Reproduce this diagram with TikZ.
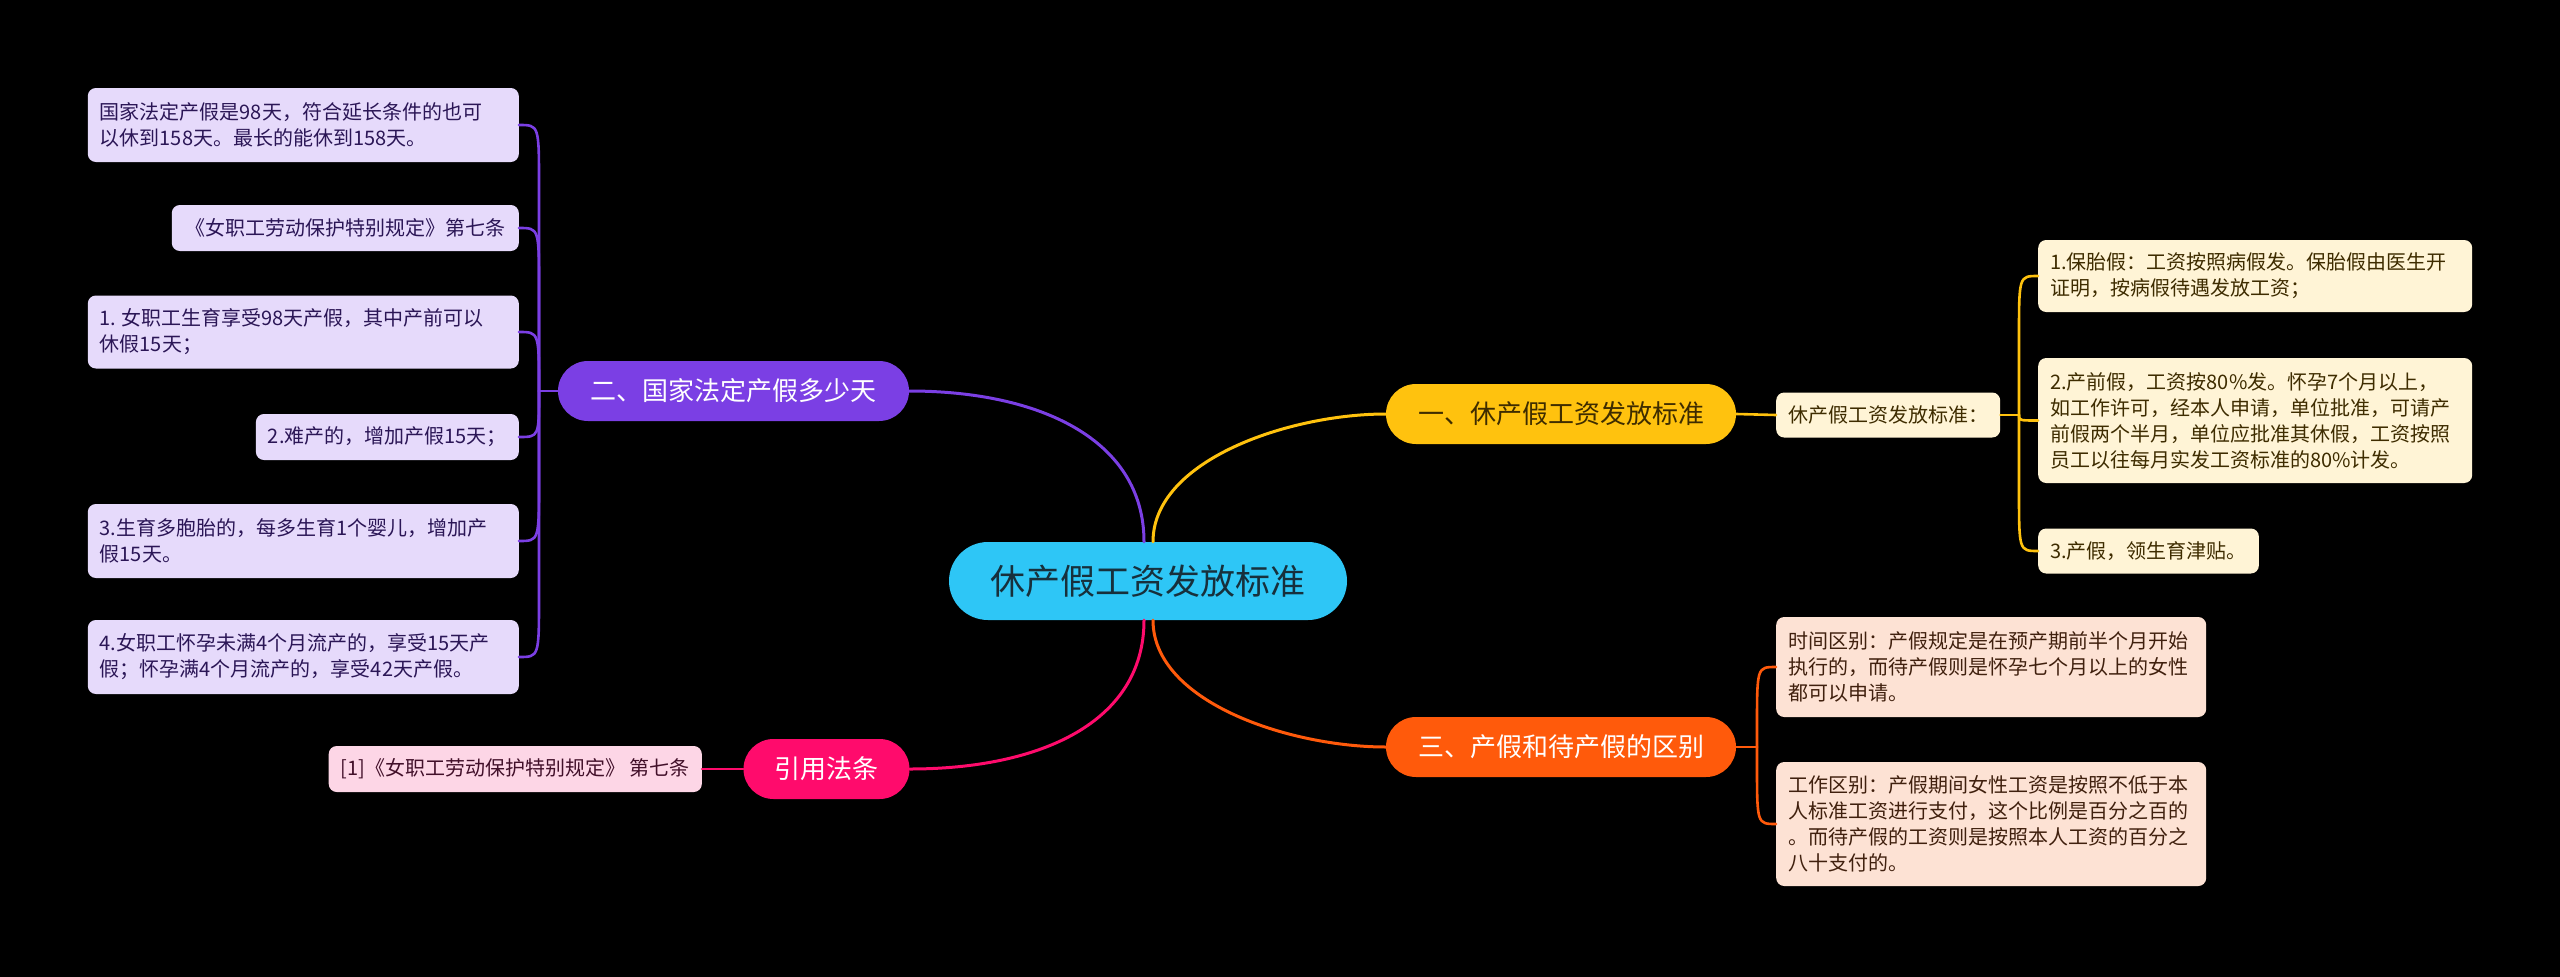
\documentclass[tikz,border=0pt]{standalone}
\usepackage{fontspec}
\newfontfamily\cjk{Noto Sans CJK SC}
\usetikzlibrary{calc}
\frenchspacing
\definecolor{cyanC}{HTML}{2EC6F6}
\definecolor{rootT}{HTML}{17303C}
\definecolor{yelB}{HTML}{FFC20E}
\definecolor{oraB}{HTML}{FF5A0B}
\definecolor{purB}{HTML}{7B3FE4}
\definecolor{pinkB}{HTML}{FF0B6C}
\definecolor{purL}{HTML}{E6DAFB}
\definecolor{yelL}{HTML}{FFF4D6}
\definecolor{oraL}{HTML}{FDE2D4}
\definecolor{pinkL}{HTML}{FDD6E6}
\definecolor{purT}{HTML}{2B1656}
\definecolor{yelT}{HTML}{3E2C00}
\definecolor{oraT}{HTML}{40200E}
\definecolor{pinkT}{HTML}{42102A}
\begin{document}
\begin{tikzpicture}[x=1pt,y=-1pt,
  rootnode/.style={fill=cyanC, text=rootT, rounded corners=39pt, minimum height=78pt, minimum width=398pt, inner sep=0pt, font=\cjk\fontsize{35}{40}\selectfont},
  mainnode/.style={rounded corners=30pt, minimum height=60pt, inner xsep=31pt, inner ysep=0pt, font=\cjk\fontsize{26}{30}\selectfont},
  leafnode/.style={rounded corners=8pt, inner xsep=12pt, inner ysep=0pt, align=left, font=\cjk\fontsize{20}{26}\selectfont\frenchspacing},
  link/.style={line width=3pt, line cap=round},
  leaflink/.style={line width=2.6pt, line cap=round, line join=round},
  purleaf/.style={leafnode, fill=purL, text=purT, anchor=east},
  yelleaf/.style={leafnode, fill=yelL, text=yelT, anchor=west},
  oraleaf/.style={leafnode, fill=oraL, text=oraT, anchor=west}
]
\fill[black] (0,0) rectangle (2560,977);
\useasboundingbox (0,0) rectangle (2560,977);

% root and main branches
\node[rootnode] (C) at (1148,581) {休产假工资发放标准};
\node[mainnode, fill=yelB, text=yelT, minimum width=350pt] (B1) at (1561,414) {一、休产假工资发放标准};
\node[mainnode, fill=oraB, text=white, minimum width=350pt] (B3) at (1561,747) {三、产假和待产假的区别};
\node[mainnode, fill=purB, text=white, minimum width=351pt] (B2) at (733.5,391) {二、国家法定产假多少天};
\node[mainnode, fill=pinkB, text=white, minimum width=165pt] (B4) at (826.5,769) {引用法条};

% left leaves (branch 2)
\node[purleaf, text width=407pt, minimum height=74pt] (L1) at (519,125) {国家法定产假是98天，符合延长条件的也可\\以休到158天。最长的能休到158天。};
\node[purleaf, minimum height=46pt, inner xsep=13.5pt] (L2) at (519,228) {《女职工劳动保护特别规定》第七条};
\node[purleaf, text width=407pt, minimum height=73pt] (L3) at (519,332) {1.\hspace{5pt}女职工生育享受98天产假，其中产前可以\\休假15天；};
\node[purleaf, minimum height=46pt] (L4) at (519,437) {2.难产的，增加产假15天；};
\node[purleaf, text width=407pt, minimum height=74pt] (L5) at (519,541) {3.生育多胞胎的，每多生育1个婴儿，增加产\\假15天。};
\node[purleaf, text width=407pt, minimum height=74pt] (L6) at (519,657) {4.女职工怀孕未满4个月流产的，享受15天产\\假；怀孕满4个月流产的，享受42天产假。};

% reference leaf (branch 4)
\node[leafnode, fill=pinkL, text=pinkT, anchor=east, minimum height=46pt] (F1) at (702,769) {[1]《女职工劳动保护特别规定》 第七条};

% right leaves (branch 1)
\node[yelleaf, minimum height=45pt] (R0) at (1776,415) {休产假工资发放标准：};
\node[yelleaf, text width=410pt, minimum height=72pt] (Ra) at (2038,276) {1.保胎假：工资按照病假发。保胎假由医生开\\证明，按病假待遇发放工资；};
\node[yelleaf, text width=410pt, minimum height=125pt] (Rb) at (2038,420.5) {2.产前假，工资按80\%发。怀孕7个月以上，\\如工作许可，经本人申请，单位批准，可请产\\前假两个半月，单位应批准其休假，工资按照\\员工以往每月实发工资标准的80\%计发。};
\node[yelleaf, minimum height=45pt] (Rc) at (2038,551) {3.产假，领生育津贴。};

% right leaves (branch 3)
\node[oraleaf, text width=406pt, minimum height=100pt] (Rd) at (1776,667) {时间区别：产假规定是在预产期前半个月开始\\执行的，而待产假则是怀孕七个月以上的女性\\都可以申请。};
\node[oraleaf, text width=406pt, minimum height=124pt] (Re) at (1776,824) {工作区别：产假期间女性工资是按照不低于本\\人标准工资进行支付，这个比例是百分之百的\\。而待产假的工资则是按照本人工资的百分之\\八十支付的。};

% root connectors
\draw[link, yelB] ([xshift=5pt]C.north) .. controls +(0,-82) and +(-96,0) .. (B1.west);
\draw[link, purB] ([xshift=-4pt]C.north) .. controls +(0,-102) and +(131,0) .. (B2.east);
\draw[link, oraB] ([xshift=5pt]C.south) .. controls +(0,82) and +(-96,0) .. (B3.west);
\draw[link, pinkB] ([xshift=-4pt]C.south) .. controls +(0,102) and +(131,0) .. (B4.east);

% junctions
\coordinate (J2) at (539,391);
\coordinate (J1) at (2019,415);
\coordinate (J3) at (1757,747);

% branch 2 children
\draw[leaflink, purB] (B2.west) -- (J2);
\draw[leaflink, purB] (J2) -- ($(J2|-L1.east)+(0,60)$) .. controls (J2|-L1.east) .. (L1.east);
\draw[leaflink, purB] (J2) -- ($(J2|-L2.east)+(0,60)$) .. controls (J2|-L2.east) .. (L2.east);
\draw[leaflink, purB] (J2) .. controls (J2|-L3.east) .. (L3.east);
\draw[leaflink, purB] (J2) .. controls (J2|-L4.east) .. (L4.east);
\draw[leaflink, purB] (J2) -- ($(J2|-L5.east)+(0,-60)$) .. controls (J2|-L5.east) .. (L5.east);
\draw[leaflink, purB] (J2) -- ($(J2|-L6.east)+(0,-60)$) .. controls (J2|-L6.east) .. (L6.east);

% branch 4 child
\draw[leaflink, pinkB] (B4.west) -- (F1.east);

% branch 1 children
\draw[leaflink, yelB] (B1.east) -- (R0.west);
\draw[leaflink, yelB] (R0.east) -- (J1);
\draw[leaflink, yelB] (J1) -- ($(J1|-Ra.west)+(0,60)$) .. controls (J1|-Ra.west) .. (Ra.west);
\draw[leaflink, yelB] (J1) .. controls (J1|-Rb.west) .. (Rb.west);
\draw[leaflink, yelB] (J1) -- ($(J1|-Rc.west)+(0,-60)$) .. controls (J1|-Rc.west) .. (Rc.west);

% branch 3 children
\draw[leaflink, oraB] (B3.east) -- (J3);
\draw[leaflink, oraB] (J3) -- ($(J3|-Rd.west)+(0,60)$) .. controls (J3|-Rd.west) .. (Rd.west);
\draw[leaflink, oraB] (J3) -- ($(J3|-Re.west)+(0,-60)$) .. controls (J3|-Re.west) .. (Re.west);
\end{tikzpicture}
\end{document}
